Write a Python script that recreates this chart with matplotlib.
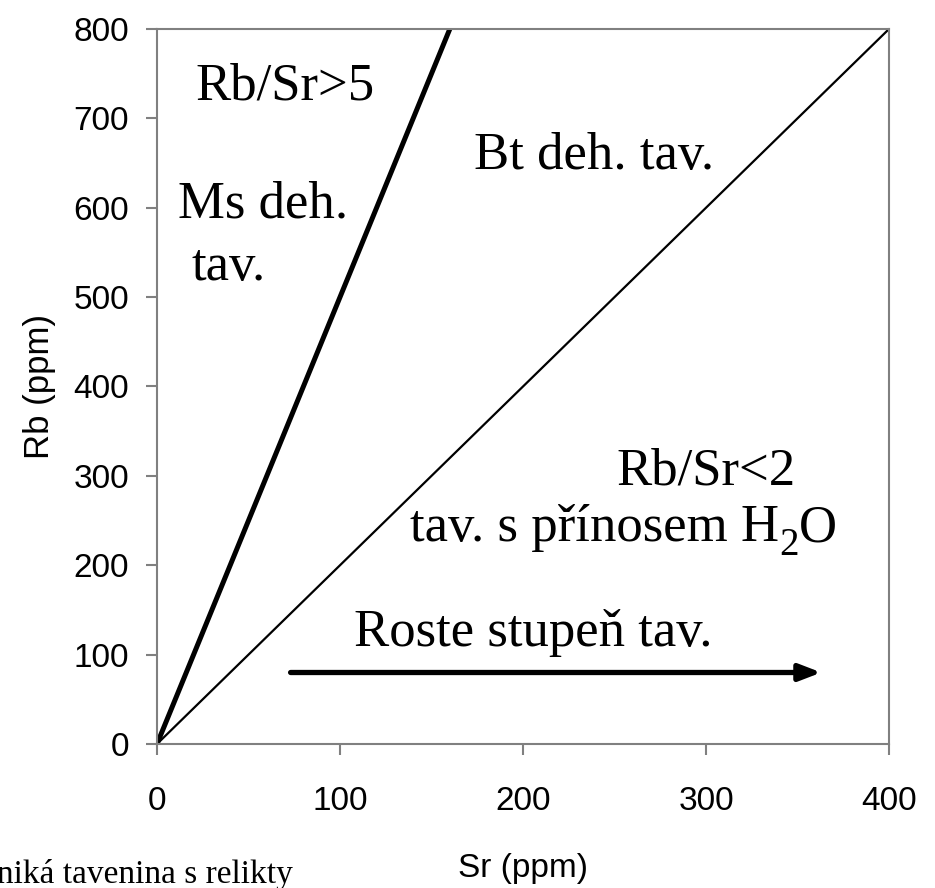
import matplotlib
matplotlib.use("Agg")
import matplotlib.pyplot as plt
from matplotlib.transforms import IdentityTransform

# data
ratio_lines = [5, 2]          # Rb/Sr boundaries
line_widths = [3.6, 1.6]
x_max, y_max = 400, 800
x_ticks = [0, 100, 200, 300, 400]
y_ticks = [0, 100, 200, 300, 400, 500, 600, 700, 800]
arrow_start = (73, 80)
arrow_end = (363, 80)

fig = plt.figure(figsize=(9.35, 8.88), dpi=100)
ax = fig.add_axes([157/935, 1-744/888, (889-157)/935, (744-29)/888])

for r, lw in zip(ratio_lines, line_widths):
    xe = min(x_max, y_max / r)
    ax.plot([0, xe], [0, xe * r], color='black', lw=lw, solid_capstyle='butt')

ax.annotate('', xy=arrow_end, xytext=arrow_start,
            arrowprops=dict(arrowstyle='-|>,head_length=1.3,head_width=0.5',
                            color='black', lw=3.8, shrinkA=0, shrinkB=0))

ax.set_xlim(0, x_max)
ax.set_ylim(0, y_max)
ax.set_xticks(x_ticks)
ax.set_yticks(y_ticks)
for s in ax.spines.values():
    s.set_color('#808080')
    s.set_linewidth(1.5)
ax.tick_params(axis='x', direction='out', length=8, width=1.5, color='#808080',
               labelcolor='black', labelsize=24, pad=22)
ax.tick_params(axis='y', direction='out', length=8, width=1.5, color='#808080',
               labelcolor='black', labelsize=24, pad=12)
for lab in ax.get_xticklabels() + ax.get_yticklabels():
    lab.set_fontfamily('Liberation Sans')

serif = dict(family='Liberation Serif', fontsize=38, color='black',
             ha='left', va='baseline')
ax.text(20.8, 721, 'Rb/Sr>5', **serif)
ax.text(11.5, 589.5, 'Ms deh.', **serif)
ax.text(19.1, 519, 'tav.', **serif)
ax.text(173, 643, 'Bt deh. tav.', **serif)
ax.text(251, 290, 'Rb/Sr<2', **serif)
ax.text(107.7, 109.5, 'Roste stupeň tav.', **serif)

# "tav. s přínosem H2O" with a real subscript 2
fig.canvas.draw()
rend = fig.canvas.get_renderer()
x0, y0 = 138.5, 227
t1 = ax.text(x0, y0, 'tav. s přínosem H', **serif)
bb1 = t1.get_window_extent(rend)
xb, yb = ax.transData.transform((x0, y0))
t2 = fig.text(bb1.x1, yb - 14, '2', transform=IdentityTransform(),
              family='Liberation Serif', fontsize=28, ha='left', va='baseline')
bb2 = t2.get_window_extent(rend)
fig.text(bb2.x1, yb, 'O', transform=IdentityTransform(),
         family='Liberation Serif', fontsize=38, ha='left', va='baseline')

fig.text(40/935, 1-386/888, 'Rb (ppm)', rotation=90, ha='center', va='center',
         family='Liberation Sans', fontsize=25)
fig.text(523/935, 1-868/888, 'Sr (ppm)', ha='center', va='center',
         family='Liberation Sans', fontsize=24)
fig.text(293/935, 1-883/888, 'Vzniká tavenina s relikty', ha='right', va='baseline',
         family='Liberation Serif', fontsize=24)

fig.savefig('out.png', dpi=100)
